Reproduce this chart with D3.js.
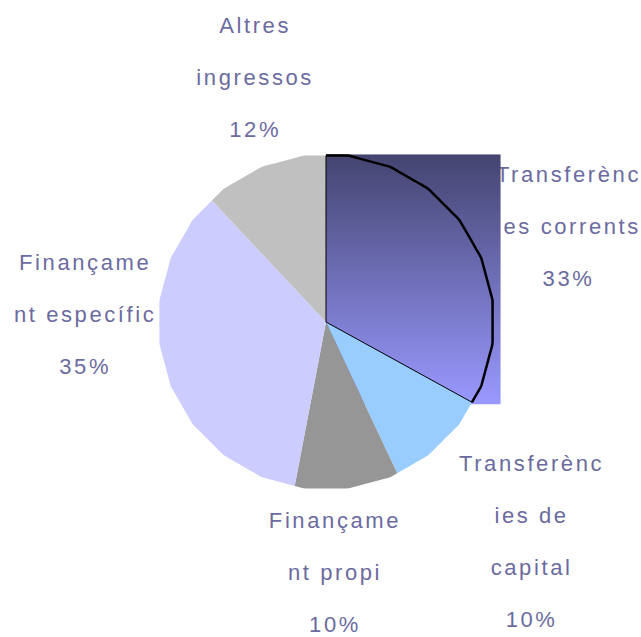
<!DOCTYPE html>
<html>
<head>
<meta charset="utf-8">
<script src="https://cdn.jsdelivr.net/npm/d3@7"></script>
<style>
  body { margin: 0; background: #fff; }
  svg { display: block; }
  .lab { font-family: "Liberation Sans", Arial, sans-serif; font-size: 22px; letter-spacing: 2.6px; fill: #6b6b9f; }
</style>
</head>
<body>
<div id="chart"></div>
<script>
var names = ["Transferències corrents", "Transferències de capital", "Finançament propi", "Finançament específic", "Altres ingressos"]
var values = [33, 10, 10, 35, 12]
var labelLines = [["Transferènc", "ies corrents"], ["Transferènc", "ies de", "capital"], ["Finançame", "nt propi"], ["Finançame", "nt específic"], ["Altres", "ingressos"]]
var fills = ["url(#grad)", "#99ccff", "#969696", "#ccccff", "#c0c0c0"]

var w = 641, h = 637
var cx = 326, cy = 322, R = 168, sides = 24
var step = 2 * Math.PI / sides
var apo = R * Math.cos(step / 2)
var lineH = 52

var svg = d3.select("#chart").append("svg")
  .attr("width", w)
  .attr("height", h)

var defs = svg.append("defs")
var grad = defs.append("linearGradient")
  .attr("id", "grad")
  .attr("x1", 0).attr("y1", 0).attr("x2", 0).attr("y2", 1)
grad.append("stop").attr("offset", "0%").attr("stop-color", "#444470")
grad.append("stop").attr("offset", "100%").attr("stop-color", "#9999ff")

// the old renderer drew a rough polygon, not a true circle
function rAt(a) {
  var phi = ((a + step / 2) % step + step) % step - step / 2
  return apo / Math.cos(phi)
}

function arcPts(d) {
  var n = Math.max(2, Math.ceil((d.endAngle - d.startAngle) / (Math.PI / 180)))
  var pts = []
  for (var i = 0; i <= n; i++) {
    var a = d.startAngle + (d.endAngle - d.startAngle) * i / n
    pts.push([a, rAt(a)])
  }
  return pts
}

var radial = d3.lineRadial()
  .angle(p => p[0])
  .radius(p => p[1])

function slicePath(d) {
  return radial([[0, 0]].concat(arcPts(d))) + "Z"
}

var pie = d3.pie().sort(null).value(d => d)
var arcs = pie(values)

var g = svg.append("g").attr("transform", "translate(" + cx + "," + cy + ")")

// labels go first, the gradient box covers them a little
var labelR = 255
function labelPos(d, i) {
  var mid = (d.startAngle + d.endAngle) / 2
  var x = Math.sin(mid) * labelR
  var y = -Math.cos(mid) * labelR
  if (i === 0) { x += 23; y += 42 }
  else if (i === 1) { x += 31; y += 41 }
  else if (i === 2) { x -= 23; y += 5 }
  else if (i === 3) { x += 4; y -= 71 }
  else { x += 23 }
  return [x, y]
}

arcs.forEach(function(d, i) {
  var p = labelPos(d, i)
  var lines = labelLines[i].concat([d3.format(".0%")(values[i] / d3.sum(values))])
  var y0 = p[1] - (lines.length - 1) * lineH / 2
  g.append("text")
    .attr("class", "lab")
    .attr("text-anchor", "middle")
    .selectAll("tspan")
    .data(lines)
    .enter()
    .append("tspan")
    .attr("x", p[0])
    .attr("y", (t, k) => y0 + k * lineH)
    .text(t => t)
})

// first slice: gradient fills its whole bounding box
var first = g.append("path")
  .attr("d", slicePath(arcs[0]))
  .attr("fill", "none")
var bb = first.node().getBBox()
g.insert("rect", "path")
  .attr("x", bb.x)
  .attr("y", bb.y - 1)
  .attr("width", bb.width + 8)
  .attr("height", bb.height + 3)
  .attr("fill", "url(#grad)")
first.remove()

g.selectAll(".slice")
  .data(arcs.slice(1))
  .enter()
  .append("path")
  .attr("class", "slice")
  .attr("d", slicePath)
  .attr("fill", (d, i) => fills[i + 1])

g.append("path")
  .attr("d", slicePath(arcs[0]))
  .attr("fill", "none")
  .attr("stroke", "#000")
  .attr("stroke-width", 1)

g.append("path")
  .attr("d", radial(arcPts(arcs[0])))
  .attr("fill", "none")
  .attr("stroke", "#000")
  .attr("stroke-width", 2.5)
</script>
</body>
</html>
